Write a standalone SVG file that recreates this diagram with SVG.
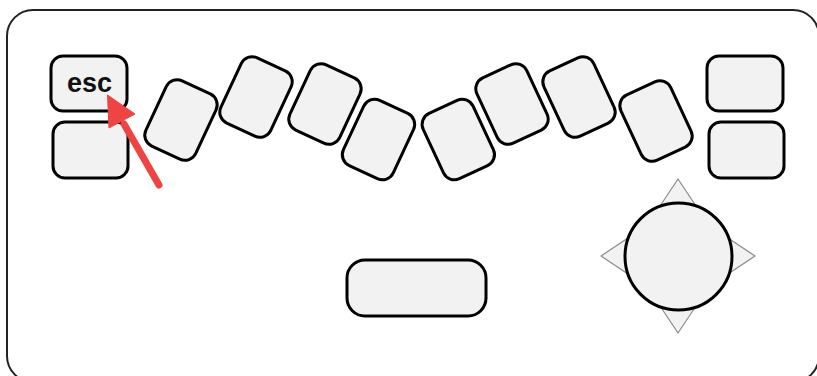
<svg xmlns="http://www.w3.org/2000/svg" width="817" height="376" viewBox="0 0 817 376">
<style>
.key{fill:#f2f2f2;stroke:#000;stroke-width:3}
.tri{fill:#f2f2f2;stroke:#8a8a8a;stroke-width:1.2;stroke-linejoin:round}
.lbl{font-family:"Liberation Sans",Arial,sans-serif;font-weight:bold;font-size:27px;fill:#111;text-anchor:middle}
</style>
<defs>
<rect id="tk" x="-27.5" y="-36" width="55" height="72" rx="12" ry="12"/>
</defs>
<rect width="817" height="376" fill="#fff"/>
<g id="frame"><rect x="7" y="10" width="812" height="372" rx="26" ry="26" fill="none" stroke="#222" stroke-width="2"/></g>
<g id="key-esc"><rect class="key" x="51" y="56" width="76" height="55" rx="12"/><text class="lbl" x="89.5" y="92.3">esc</text></g>
<g id="key-l2"><rect class="key" x="53" y="122" width="75" height="56" rx="12"/></g>
<g id="key-r1"><rect class="key" x="707" y="56" width="76" height="55" rx="12"/></g>
<g id="key-r2"><rect class="key" x="709" y="122" width="75" height="56" rx="12"/></g>
<g id="key-1"><use href="#tk" class="key" transform="translate(181 120) rotate(25)"/></g>
<g id="key-2"><use href="#tk" class="key" transform="translate(256 97) rotate(25)"/></g>
<g id="key-3"><use href="#tk" class="key" transform="translate(325 104) rotate(25)"/></g>
<g id="key-4"><use href="#tk" class="key" transform="translate(378.5 139.5) rotate(25)"/></g>
<g id="key-5"><use href="#tk" class="key" transform="translate(458.3 139.5) rotate(-25)"/></g>
<g id="key-6"><use href="#tk" class="key" transform="translate(512 104) rotate(-25)"/></g>
<g id="key-7"><use href="#tk" class="key" transform="translate(579 97) rotate(-25)"/></g>
<g id="key-8"><use href="#tk" class="key" transform="translate(656 121) rotate(-25)"/></g>
<g id="space"><rect class="key" x="347" y="260" width="139" height="56" rx="18"/></g>
<g id="joystick">
<polygon class="tri" points="678,179 650,221 706,221"/>
<polygon class="tri" points="678,333 650,291 706,291"/>
<polygon class="tri" points="601,256 643,228 643,284"/>
<polygon class="tri" points="755,256 713,228 713,284"/>
<circle class="key" cx="678.5" cy="256.5" r="53.5"/>
</g>
<g id="connectors">
<line x1="159" y1="185" x2="124" y2="124" stroke="#ef4444" stroke-width="7" stroke-linecap="round"/>
<polygon points="107.5,95 109,128 135,114" fill="#ef4444" stroke="#ef4444" stroke-width="1" stroke-linejoin="round"/>
</g>
</svg>
